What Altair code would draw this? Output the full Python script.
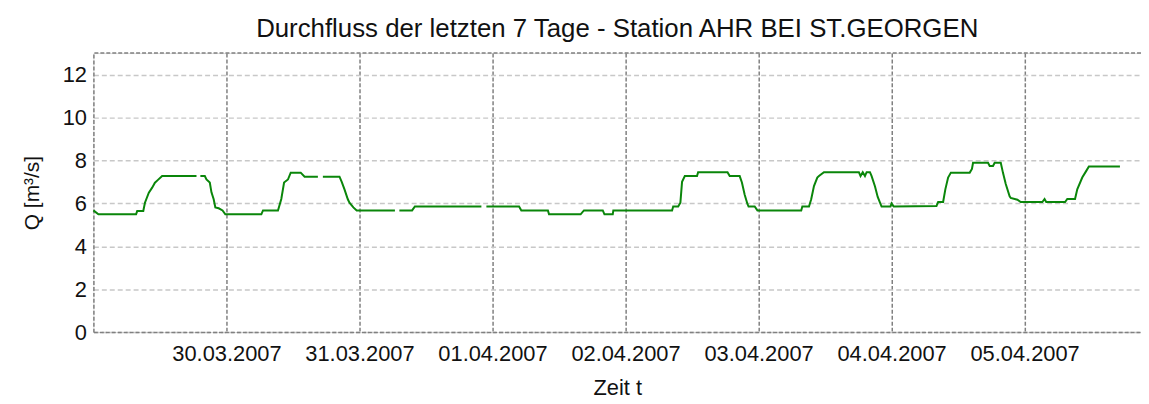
import altair as alt
import pandas as pd

TITLE = "Durchfluss der letzten 7 Tage - Station AHR BEI ST.GEORGEN"
X_TITLE = "Zeit t"
Y_TITLE = "Q [m³/s]"
START = "2007-03-29T00:00:00"

# hours since 29.03.2007 00:00 and discharge in m³/s (None = gap in the record)
HOURS = [0.0, 0.9, 7.7, 7.9, 9.0, 9.3, 10.0, 10.6, 11.1, 11.6, 12.4, 18.6,
         18.9, 19.3, 20.1, 20.4, 21.0, 21.3, 21.7, 22.0, 22.6, 23.3, 23.8,
         30.3, 30.6, 33.3, 33.9, 34.4, 35.1, 35.6, 37.4, 38.1, 40.5,
         41.0, 41.4, 44.4, 44.8, 45.3, 45.9, 46.2, 46.9, 47.5, 54.4,
         54.8, 55.2, 57.5, 58.0, 70.0,
         70.5, 70.9, 76.8, 77.2, 82.0, 82.2, 87.9, 88.5, 91.9, 92.2, 93.7, 93.8,
         104.4, 104.6, 105.5, 105.9, 106.2, 106.7, 108.9, 109.1, 114.4, 114.8,
         116.6, 117.0, 117.5, 118.0, 118.2, 119.3, 119.8, 127.7, 127.9, 129.1,
         129.5, 130.0, 130.6, 130.9, 131.8, 138.1, 138.4, 138.8, 139.2, 139.5,
         140.1, 140.4, 141.0, 141.5, 142.0, 142.2, 143.8, 144.0, 144.4, 152.1,
         152.4, 153.3, 153.7, 154.2, 154.7, 158.1, 158.5, 158.7, 161.4, 161.7,
         162.3, 162.6, 163.7, 164.1, 164.6, 165.3, 165.5, 166.7, 167.3, 171.2,
         171.6, 171.9, 175.3, 175.7, 177.1, 177.5, 178.4, 179.1, 179.6, 185.2]
Q = [5.67, 5.49, 5.49, 5.64, 5.64, 6.03, 6.50, 6.73, 6.96, 7.08, 7.27, 7.27,
     None, 7.27, 7.27, 7.11, 6.97, 6.51, 6.19, 5.81, 5.77, 5.67, 5.49,
     5.49, 5.67, 5.67, 6.20, 6.97, 7.11, 7.43, 7.43, 7.24, 7.24,
     None, 7.24, 7.24, 7.00, 6.65, 6.19, 6.03, 5.81, 5.67, 5.67,
     None, 5.67, 5.67, 5.85, 5.85,
     None, 5.85, 5.85, 5.67, 5.67, 5.49, 5.49, 5.67, 5.67, 5.49, 5.49, 5.67,
     5.67, 5.85, 5.85, 6.03, 7.00, 7.27, 7.27, 7.45, 7.45, 7.27,
     7.27, 6.97, 6.40, 5.97, 5.85, 5.85, 5.67, 5.67, 5.85, 5.85,
     6.19, 6.80, 7.20, 7.27, 7.45, 7.45, 7.27, 7.45, 7.27, 7.45,
     7.45, 7.27, 6.80, 6.30, 5.97, 5.85, 5.85, 6.00, 5.85, 5.87,
     6.06, 6.06, 6.65, 7.20, 7.43, 7.43, 7.60, 7.89, 7.89, 7.74,
     7.74, 7.89, 7.89, 7.42, 6.90, 6.33, 6.25, 6.17, 6.06, 6.06,
     6.20, 6.06, 6.06, 6.20, 6.20, 6.65, 7.20, 7.50, 7.72, 7.72]

TICK_LABELS = ["30.03.2007", "31.03.2007", "01.04.2007", "02.04.2007",
               "03.04.2007", "04.04.2007", "05.04.2007"]
Y_TICKS = [0, 2, 4, 6, 8, 10, 12]
Y_MAX = 13

FONT = "Liberation Sans"
LINE_COLOR = "#0a860a"
BORDER = "#808080"
HGRID = "#c8c8c8"
TEXT = "#111111"

start = pd.Timestamp(START)
times = [(start + pd.Timedelta(hours=h)).strftime("%Y-%m-%dT%H:%M:%SZ") for h in HOURS]
df = pd.DataFrame({"t": times, "q": Q})


def dt(label):
    d, m, y = label.split(".")
    return alt.DateTime(year=int(y), month=int(m), date=int(d), utc=True)


tick_dts = [dt(l) for l in TICK_LABELS]
x_domain = [alt.DateTime(year=2007, month=3, date=29, utc=True),
            alt.DateTime(year=2007, month=4, date=5, hours=21, utc=True)]

x_enc = alt.X(
    "t:T",
    scale=alt.Scale(type="utc", domain=x_domain),
    axis=alt.Axis(
        title=X_TITLE, values=tick_dts,
        labelExpr="utcFormat(datum.value, '%d.%m.%Y')",
        grid=True, gridColor=BORDER, gridDash=[4, 2], gridWidth=1.5,
        domain=True, domainColor=BORDER, domainDash=[4, 2], domainWidth=1.5,
        ticks=False, tickSize=0, labelPadding=12, labelFlush=False,
        labelOverlap=False, labelFont=FONT, labelFontSize=22, labelColor=TEXT,
        titleFont=FONT, titleFontSize=22, titleFontWeight="normal",
        titleColor=TEXT, titlePadding=13,
    ),
)
y_enc = alt.Y(
    "q:Q",
    scale=alt.Scale(domain=[0, Y_MAX], nice=False, zero=True),
    axis=alt.Axis(
        title=Y_TITLE, values=Y_TICKS,
        grid=True, gridColor=HGRID, gridDash=[5, 3], gridWidth=1.5,
        domain=True, domainColor=BORDER, domainDash=[4, 2], domainWidth=1.5,
        ticks=False, tickSize=0, labelPadding=7,
        labelFont=FONT, labelFontSize=22, labelColor=TEXT,
        titleFont=FONT, titleFontSize=21, titleFontWeight="normal",
        titleColor=TEXT, titlePadding=20,
    ),
)

line = alt.Chart(df).mark_line(
    color=LINE_COLOR, strokeWidth=2, invalid="break-paths-filter-domains"
).encode(x=x_enc, y=y_enc)

top = alt.Chart(pd.DataFrame({"top": [Y_MAX]})).mark_rule(
    color=BORDER, strokeDash=[4, 2], strokeWidth=1.5
).encode(y=alt.Y("top:Q", scale=alt.Scale(domain=[0, Y_MAX], nice=False)))

chart = alt.layer(line, top).properties(
    width=1055,
    height=281,
    title=alt.TitleParams(TITLE, font=FONT, fontSize=26, fontWeight="normal",
                          color=TEXT, offset=10, anchor="middle"),
    autosize=alt.AutoSizeParams(type="none"),
    padding={"left": 86, "top": 44, "right": 0, "bottom": 71},
).configure_view(strokeWidth=0).configure(background="white")

chart.save("out.html", embed_options={"renderer": "svg", "actions": False})
